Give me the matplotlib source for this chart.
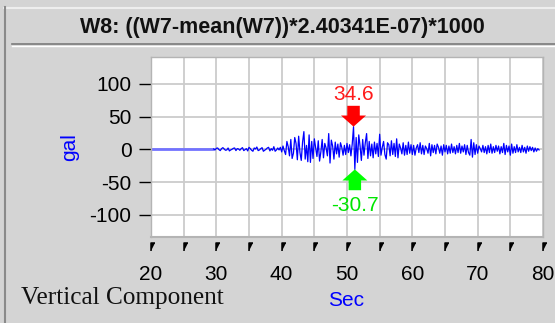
import numpy as np
import matplotlib
matplotlib.use("Agg")
import matplotlib.pyplot as plt
from matplotlib.lines import Line2D
from matplotlib.path import Path
from matplotlib.ticker import MultipleLocator

# record start / sample step (s) and acceleration samples (gal)
t_start = 29.6
dt = 0.2
acc = [
    # 29.6 - 34.4
    0.5, -1, 1.5, 2, -0.5, -2, 1, 2.5, 0.5, -1.5, -1, 2, -2.5, -1, 0, 1.5, 2, -2, 1, 0.5, -1.5, 1, 2.5, -2, -0.5,
    # 34.6 - 39.4
    1, -2.5, 3, 1, -1.5, -3, 2, 0.5, 3.5, -2, -1, 1, 2.5, -3, -1.5, 0, 2, 3, -2.5, 1, -1.5, 4, -3, -1, 2,
    # 39.6 - 44.4
    -1, 3, -4, 5, -2, -8, 12, 4, -10, 15, -14, -6, 18, 9, -16, 20, -5, -17, 11, 27, -15, 6, -19, 22, -20,
    # 44.6 - 49.4
    12, -14, 16, 3, -11, 13, -18, -4, 15, -13, 9, 2, -10, 24, -21, 14, 5, -15, 11, -7, 8, -12, 10, 3, -9,
    # 49.6 - 54.4
    6, -8, 9, -5, 7, -10, 8, 34.6, -30.7, 18, -20, 22, 5, -17, 15, -9, 10, 24, -14, 12, -10, 8, -13, 11, -7,
    # 54.6 - 59.4
    9, -11, 23, -9, 3, 12, -8, -15, 10, 7, -10, 13, -8, 9, -11, 16, -13, 8, 2, -7, 10, -9, 6, -8, 11,
    # 59.6 - 64.4
    -6, 7, -8, 6, -9, 2, 7, -5, 10, -7, 6, -8, 5, 1, -6, 9, -10, 7, -5, 6, -7, 8, 3, -6, 5,
    # 64.6 - 69.4
    -9, 7, -4, 6, -7, 5, -6, 8, -5, 4, -7, 6, -5, 9, -6, 5, -4, 7, -8, 6, -5, -9, 15, -12, 10,
    # 69.6 - 74.4
    -8, 7, -6, 5, 1, -4, 6, -5, 4, -7, 6, -5, 8, -6, 4, -5, 6, -3, 5, -7, 4, -5, 9, -8, 6,
    # 74.6 - 79.4
    -4, 5, -9, 8, -6, 4, -5, 7, -4, 3, -5, 6, -4, 3, -6, 5, -3, 4, -2, 3, -4, 2, -3, 1, -1,
]
# flat (pre-event) part of the trace
pre_t = [20, 29.6]
pre_acc = [0, 0]

title = "W8: ((W7-mean(W7))*2.40341E-07)*1000"
xticks = [20, 30, 40, 50, 60, 70, 80]
yticks = [-100, -50, 0, 50, 100]

acc = np.array(acc)
t = np.round(t_start + dt * np.arange(len(acc)), 2)

bg = "#d4d4d4"
plt.rcParams["font.family"] = ["Liberation Sans", "DejaVu Sans"]
plt.rcParams["axes.unicode_minus"] = False

fig = plt.figure(figsize=(5.55, 3.23), dpi=100, facecolor=bg)
W, H = 555, 323
ax = fig.add_axes([151 / W, 1 - 237 / H, 392 / W, 180 / H])
ax.set_facecolor("white")

ax.plot(pre_t, pre_acc, color="#7272ff", lw=2, solid_capstyle="butt")
ax.plot(t, acc, color="#0000ff", lw=0.9)

ax.set_xlim(20, 80)
ax.set_ylim(-134, 141)
ax.set_xticks(xticks)
ax.xaxis.set_minor_locator(MultipleLocator(5))
ax.set_yticks(yticks)
ax.grid(True, which="both", color="#cccccc", lw=1.3)
ax.set_axisbelow(True)

for s in ax.spines.values():
    s.set_color("#b4b4b4")
    s.set_linewidth(1)
ax.spines["bottom"].set_position(("outward", 4))
ax.spines["bottom"].set_visible(False)
ax.axhline(-134, color="#b4b4b4", lw=1.5, clip_on=False)

# little corner-shaped x ticks
corner = Path([(0.5, 0), (0, 0), (0, -1)], [Path.MOVETO, Path.LINETO, Path.LINETO])
ax.tick_params(axis="x", which="both", length=6, width=1, color="black",
               pad=10, labelsize=15)
for tk in ax.xaxis.get_major_ticks() + ax.xaxis.get_minor_ticks():
    tk.tick1line.set_marker(corner)
    tk.tick1line.set_markersize(11)
    tk.tick1line.set_markeredgewidth(1.1)
ax.tick_params(axis="y", length=9, width=1, color="black", pad=5, labelsize=15)

ax.set_ylabel("gal", color="#0000ff", fontsize=15, va="center")
ax.yaxis.set_label_coords((70 - 151) / 392, 0.5)
ax.set_xlabel("Sec", color="#0000ff", fontsize=15, va="center")
ax.xaxis.set_label_coords((346 - 151) / 392, (237 - 301) / 180)

# peak markers
i_max = int(np.argmax(acc))
i_min = int(np.argmin(acc))
ax.annotate("", xy=(t[i_max], acc[i_max]), xytext=(0, 15), textcoords="offset points",
            arrowprops=dict(width=9, headwidth=18, headlength=8, shrink=0,
                            color="#ff0000", lw=0))
ax.annotate(f"{acc[i_max]:.1f}", xy=(t[i_max], acc[i_max]), xytext=(0, 23.5),
            textcoords="offset points", ha="center", va="center",
            color="#ff1a1a", fontsize=15)
ax.annotate("", xy=(t[i_min], acc[i_min]), xytext=(0, -15), textcoords="offset points",
            arrowprops=dict(width=9, headwidth=18, headlength=8, shrink=0,
                            color="#00ff00", lw=0))
ax.annotate(f"{acc[i_min]:.1f}", xy=(t[i_min], acc[i_min]), xytext=(0, -26),
            textcoords="offset points", ha="center", va="center",
            color="#00e600", fontsize=15)

# panel frame and header
fig.add_artist(Line2D([4 / W, 1], [1 - 7.5 / H] * 2, color="#eeeeee", lw=1.5))
fig.add_artist(Line2D([4.5 / W] * 2, [0, 1 - 7 / H], color="#8a8a8a", lw=1.5))
fig.add_artist(Line2D([12 / W, 1], [1 - 44 / H] * 2, color="#7a7a7a", lw=1.2))
fig.add_artist(Line2D([12 / W, 1], [1 - 45.5 / H] * 2, color="#ffffff", lw=1))
fig.text(282 / W, 1 - 28 / H, title, ha="center", va="center",
         fontsize=15.5, fontweight="bold", color="#111111")
fig.text(21 / W, 1 - 298 / H, "Vertical Component", ha="left", va="center",
         fontsize=18.2, family="Liberation Serif", color="#111111")

fig.savefig("out.png", dpi=100, facecolor=bg)
